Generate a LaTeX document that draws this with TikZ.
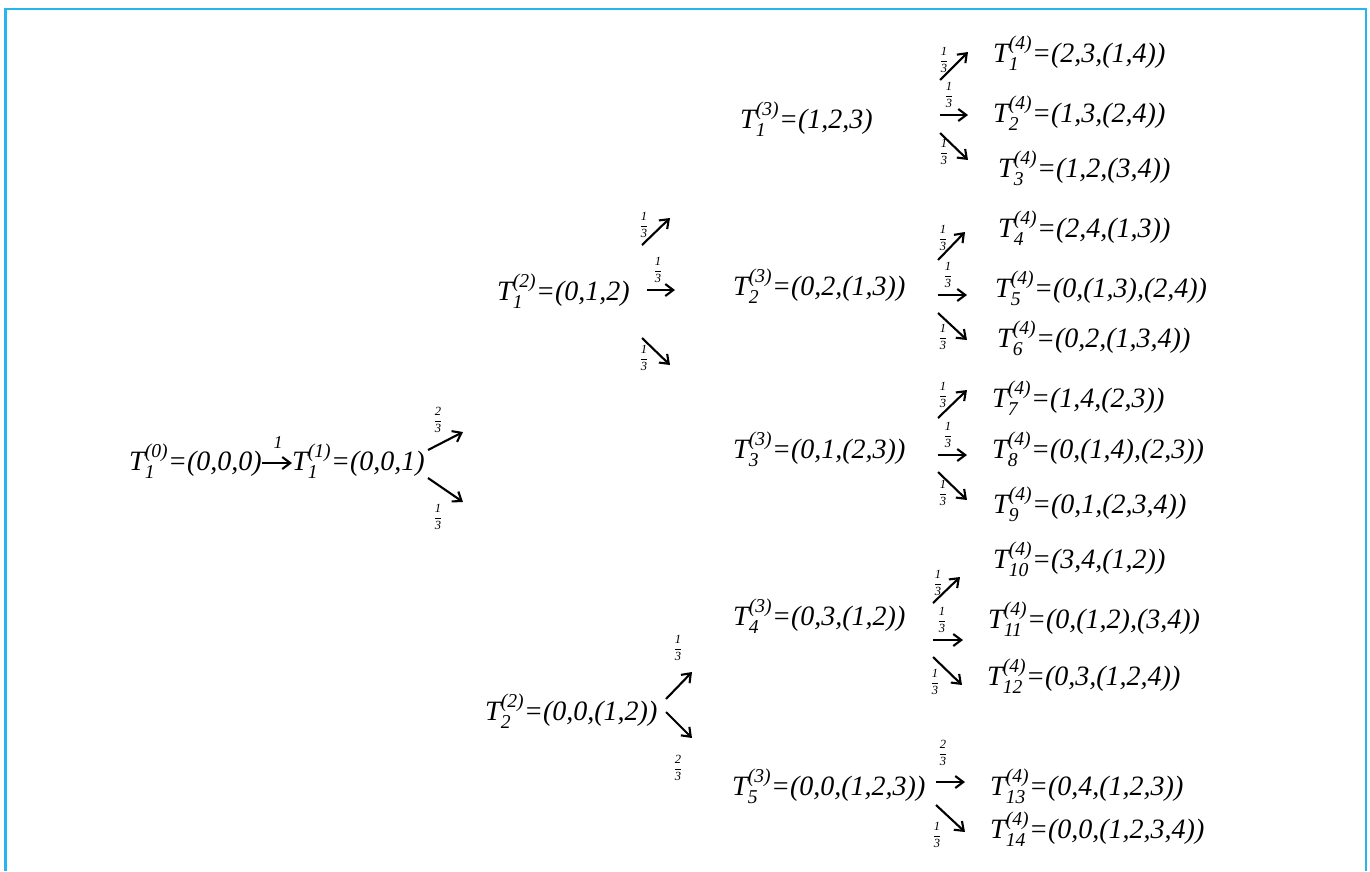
\documentclass[tikz,border=0pt]{standalone}
\usepackage{amsmath}
\usepackage{fontspec}
\setmainfont{Liberation Serif}
\usetikzlibrary{arrows.meta}
\definecolor{framecyan}{RGB}{38,182,236}
% a state T^{(level)}_{index}=(...)
\newcommand\Tlab[3]{T$^{\text{(#2)}}_{\text{#1}}$=#3}
% small stacked probability
\newcommand\probfrac[2]{$\dfrac{\text{#1}}{\text{#2}}$}
% a free transition arrow with its probability label
\newcommand\probarrow[5]{%
  \coordinate (#1s) at (#2);
  \coordinate (#1e) at (#3);
  \draw[arr] (#1s) -- (#1e);
  \node[frac] (#1l) at (#4) {#5};}
\begin{document}
\begin{tikzpicture}[x=1pt,y=-1pt,
  state/.style={font=\fontsize{28}{30}\selectfont\itshape, anchor=base west, inner sep=0pt},
  frac/.style={font=\fontsize{12.5}{12.5}\selectfont\itshape, inner sep=0pt},
  arr/.style={-{Straight Barb[length=8pt,width=12pt]}, line width=2.1pt, black}]
\useasboundingbox (0,0) rectangle (1370,871);
% frame
\draw[framecyan, line width=2.5pt] (5.5,871) -- (5.5,9) -- (1366,9) -- (1366,871);

% level 0 and 1
\node[state] (t0) at (129,470) {\Tlab{1}{0}{(0,0,0)}};
\node[state] (t1) at (292,470) {\Tlab{1}{1}{(0,0,1)}};
\draw[arr] ([yshift=7pt]t0.base east) -- ([yshift=7pt]t1.base west);
\node[font=\fontsize{18}{18}\selectfont\itshape, inner sep=0pt] (t01l) at (278,443) {1};
\probarrow{b1u}{428,450}{463,432}{438,420}{\probfrac{2}{3}}
\probarrow{b1d}{428,478}{463,502}{438,517}{\probfrac{1}{3}}

% level 2
\node[state] (t21) at (497,300) {\Tlab{1}{2}{(0,1,2)}};
\probarrow{b21u}{642,245}{670,218}{644,225}{\probfrac{1}{3}}
\probarrow{b21r}{647,290}{675,290}{658,270}{\probfrac{1}{3}}
\probarrow{b21d}{642,338}{670,365}{644,358}{\probfrac{1}{3}}

\node[state] (t22) at (485,720) {\Tlab{2}{2}{(0,0,(1,2))}};
\probarrow{b22u}{666,699}{692,672}{678,648}{\probfrac{1}{3}}
\probarrow{b22d}{666,712}{692,738}{678,768}{\probfrac{2}{3}}

% level 3
\node[state] (t31) at (740,128) {\Tlab{1}{3}{(1,2,3)}};
\node[state] (t32) at (733,295) {\Tlab{2}{3}{(0,2,(1,3))}};
\node[state] (t33) at (733,458) {\Tlab{3}{3}{(0,1,(2,3))}};
\node[state] (t34) at (733,625) {\Tlab{4}{3}{(0,3,(1,2))}};
\node[state] (t35) at (732,795) {\Tlab{5}{3}{(0,0,(1,2,3))}};

\probarrow{b31u}{940,80}{968,52}{944,60}{\probfrac{1}{3}}
\probarrow{b31r}{940,115}{968,115}{949,95}{\probfrac{1}{3}}
\probarrow{b31d}{940,133}{968,160}{944,152}{\probfrac{1}{3}}

\probarrow{b32u}{938,260}{965,232}{943,238}{\probfrac{1}{3}}
\probarrow{b32r}{938,295}{967,295}{948,275}{\probfrac{1}{3}}
\probarrow{b32d}{938,313}{967,340}{943,337}{\probfrac{1}{3}}

\probarrow{b33u}{938,418}{967,390}{943,395}{\probfrac{1}{3}}
\probarrow{b33r}{938,455}{967,455}{948,435}{\probfrac{1}{3}}
\probarrow{b33d}{938,472}{967,500}{943,493}{\probfrac{1}{3}}

\probarrow{b34u}{933,603}{960,577}{938,583}{\probfrac{1}{3}}
\probarrow{b34r}{933,640}{963,640}{942,620}{\probfrac{1}{3}}
\probarrow{b34d}{933,657}{962,685}{935,682}{\probfrac{1}{3}}

\probarrow{b35r}{936,782}{965,782}{943,753}{\probfrac{2}{3}}
\probarrow{b35d}{936,805}{965,832}{937,835}{\probfrac{1}{3}}

% level 4
\node[state] (t41)  at (993,62)  {\Tlab{1}{4}{(2,3,(1,4))}};
\node[state] (t42)  at (993,122) {\Tlab{2}{4}{(1,3,(2,4))}};
\node[state] (t43)  at (998,177) {\Tlab{3}{4}{(1,2,(3,4))}};
\node[state] (t44)  at (998,237) {\Tlab{4}{4}{(2,4,(1,3))}};
\node[state] (t45)  at (995,297) {\Tlab{5}{4}{(0,(1,3),(2,4))}};
\node[state] (t46)  at (997,347) {\Tlab{6}{4}{(0,2,(1,3,4))}};
\node[state] (t47)  at (992,407) {\Tlab{7}{4}{(1,4,(2,3))}};
\node[state] (t48)  at (992,458) {\Tlab{8}{4}{(0,(1,4),(2,3))}};
\node[state] (t49)  at (993,513) {\Tlab{9}{4}{(0,1,(2,3,4))}};
\node[state] (t410) at (993,568) {\Tlab{10}{4}{(3,4,(1,2))}};
\node[state] (t411) at (988,628) {\Tlab{11}{4}{(0,(1,2),(3,4))}};
\node[state] (t412) at (987,685) {\Tlab{12}{4}{(0,3,(1,2,4))}};
\node[state] (t413) at (990,795) {\Tlab{13}{4}{(0,4,(1,2,3))}};
\node[state] (t414) at (990,838) {\Tlab{14}{4}{(0,0,(1,2,3,4))}};
\end{tikzpicture}
\end{document}
